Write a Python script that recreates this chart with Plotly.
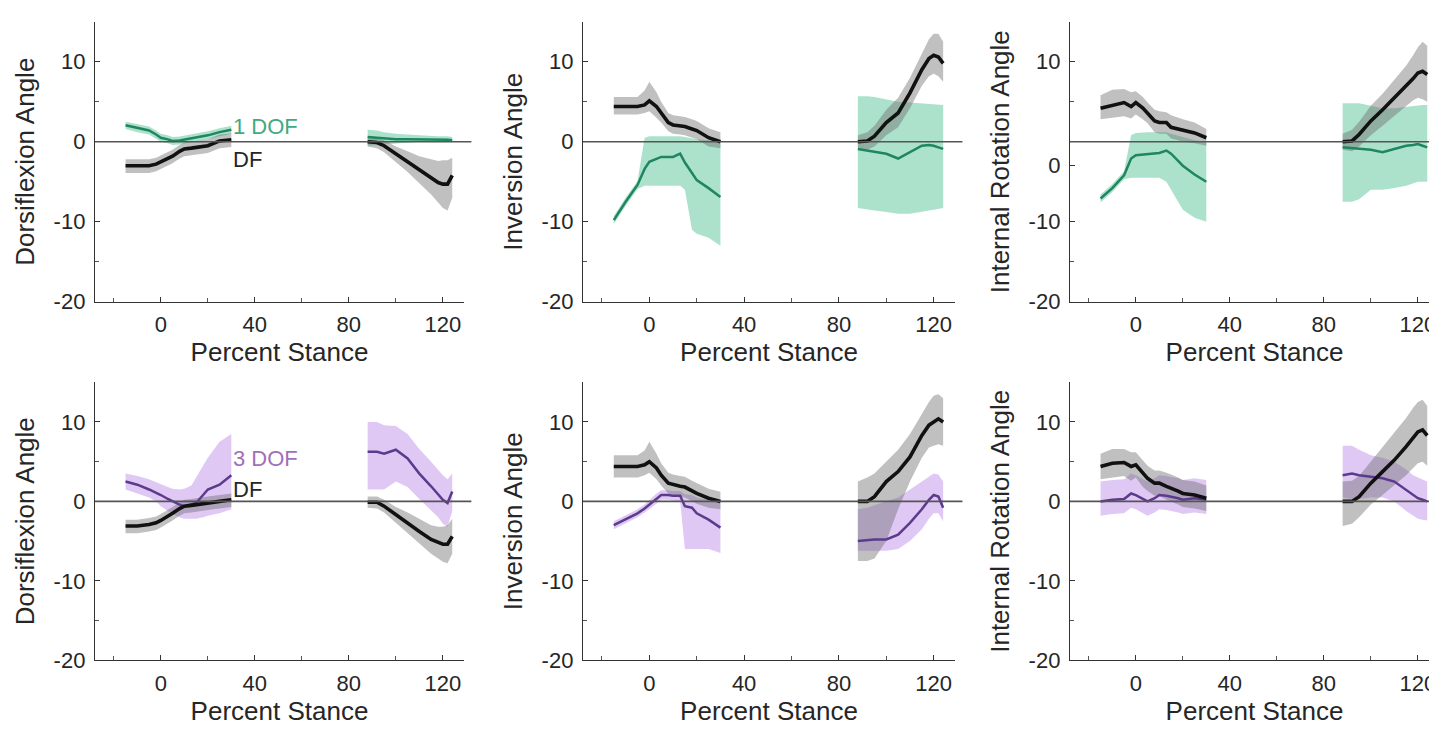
import plotly.graph_objects as go

# ---------------- data ----------------
X_EARLY = [-15, -10, -5, -2, 0, 3, 5, 8, 10, 13, 15, 18, 20, 25, 30]
X_LATE = [88, 92, 95, 100, 105, 110, 115, 118, 120, 122, 124]

Y_LABELS = ["Dorsiflexion Angle", "Inversion Angle", "Internal Rotation Angle"]
X_LABEL = "Percent Stance"
X_TICKS = [0, 40, 80, 120]
Y_TICKS = [-20, -10, 0, 10]
Y_TICKS_TOP_RIGHT = [-20, -10, -3, 10]   # the "0" label sits low in the source
Y_TICK_TEXT = ["-20", "-10", "0", "10"]

# Panel 1: dorsiflexion, DF (black) vs 1 DOF (green)
P1_DF_E = [-3.0, -3.0, -3.0, -2.8, -2.5, -2.1, -1.8, -1.2, -0.9, -0.8, -0.7, -0.6, -0.5, 0.1, 0.25]
P1_DF_E_HI = [-2.2, -2.2, -2.2, -2.0, -1.7, -1.3, -1.0, -0.4, -0.1, 0.0, 0.1, 0.2, 0.3, 0.9, 1.05]
P1_DF_E_LO = [-3.9, -3.9, -3.9, -3.7, -3.4, -3.0, -2.7, -2.1, -1.8, -1.7, -1.6, -1.5, -1.4, -0.8, -0.65]
P1_DF_L = [0.0, -0.1, -0.5, -1.5, -2.5, -3.6, -4.6, -5.1, -5.3, -5.3, -4.2]
P1_DF_L_HI = [0.6, 0.5, 0.2, -0.6, -1.2, -1.8, -2.2, -2.4, -2.3, -2.3, -2.0]
P1_DF_L_LO = [-0.6, -0.8, -1.3, -2.5, -3.8, -5.2, -6.6, -7.6, -8.3, -8.6, -7.0]
P1_CMP_E = [2.05, 1.7, 1.4, 0.9, 0.5, 0.3, 0.1, 0.15, 0.25, 0.4, 0.5, 0.7, 0.8, 1.2, 1.5]
P1_CMP_E_HI = [2.5, 2.2, 1.9, 1.4, 1.0, 0.8, 0.6, 0.65, 0.75, 0.9, 1.0, 1.2, 1.3, 1.7, 2.0]
P1_CMP_E_LO = [1.6, 1.2, 0.9, 0.4, 0.0, -0.2, -0.4, -0.35, -0.25, -0.1, 0.0, 0.2, 0.3, 0.7, 1.0]
P1_CMP_L = [0.6, 0.5, 0.4, 0.3, 0.3, 0.3, 0.3, 0.3, 0.3, 0.25, 0.2]
P1_CMP_L_HI = [1.5, 1.4, 1.2, 1.0, 0.9, 0.8, 0.7, 0.7, 0.7, 0.7, 0.6]
P1_CMP_L_LO = [-0.5, -0.4, -0.3, -0.2, -0.1, 0.0, 0.0, 0.0, 0.0, 0.0, 0.0]

# Panel 2: inversion, DF (black) vs 1 DOF (green)
P2_DF_E = [4.4, 4.4, 4.4, 4.6, 5.1, 4.4, 3.6, 2.4, 2.1, 2.0, 1.9, 1.6, 1.4, 0.5, 0.0]
P2_DF_E_HI = [5.6, 5.6, 5.6, 6.4, 7.5, 6.2, 5.0, 3.6, 3.3, 3.2, 3.1, 2.8, 2.6, 1.7, 1.2]
P2_DF_E_LO = [3.4, 3.4, 3.4, 3.6, 3.8, 3.0, 2.4, 1.3, 1.0, 0.9, 0.8, 0.5, 0.3, -0.6, -0.8]
P2_DF_L = [0.0, 0.1, 0.7, 2.4, 3.6, 6.1, 9.0, 10.4, 10.8, 10.6, 9.8]
P2_DF_L_HI = [0.8, 1.2, 2.0, 4.0, 5.5, 8.0, 11.0, 12.8, 13.5, 13.5, 12.5]
P2_DF_L_LO = [-0.8, -1.0, -0.6, 0.8, 1.8, 4.2, 7.0, 8.2, 8.5, 8.2, 7.5]
P2_CMP_E = [-9.8, -7.5, -5.4, -3.4, -2.5, -2.1, -1.9, -1.9, -1.9, -1.5, -2.6, -3.9, -4.8, -5.8, -6.9]
P2_CMP_E_HI = [-9.3, -7.0, -4.9, 0.5, 0.7, 0.7, 0.7, 0.7, 0.7, 0.7, 0.6, 0.4, 0.3, 0.2, 0.0]
P2_CMP_E_LO = [-10.3, -8.0, -5.9, -5.5, -5.5, -5.5, -5.5, -5.5, -5.5, -5.5, -6.0, -11.0, -11.5, -12.0, -13.0]
P2_CMP_L = [-0.9, -1.1, -1.3, -1.5, -2.1, -1.3, -0.5, -0.4, -0.5, -0.7, -0.9]
P2_CMP_L_HI = [5.7, 5.7, 5.6, 5.3, 5.0, 4.9, 4.8, 4.8, 4.7, 4.7, 4.6]
P2_CMP_L_LO = [-8.3, -8.5, -8.6, -8.8, -9.0, -9.0, -8.8, -8.6, -8.5, -8.4, -8.3]

# Panel 3: internal rotation, DF (black) vs 1 DOF (green)
P3_DF_E = [4.2, 4.6, 4.9, 4.4, 4.9, 4.2, 3.6, 2.6, 2.4, 2.4, 1.8, 1.6, 1.4, 1.1, 0.5]
P3_DF_E_HI = [5.8, 6.5, 6.6, 6.2, 6.3, 5.6, 4.9, 4.0, 3.8, 3.7, 3.3, 3.0, 2.8, 2.4, 1.6]
P3_DF_E_LO = [2.8, 3.0, 3.2, 2.9, 3.4, 2.8, 2.3, 1.2, 1.0, 1.0, 0.4, 0.2, 0.0, -0.2, -0.5]
P3_DF_L = [0.0, 0.1, 0.9, 2.6, 4.0, 5.5, 6.9, 7.9, 8.6, 8.8, 8.4]
P3_DF_L_HI = [1.0, 1.5, 2.5, 4.5, 6.0, 7.8, 9.5, 10.8, 11.8, 12.5, 12.0]
P3_DF_L_LO = [-1.0, -1.2, -0.6, 0.8, 2.0, 3.2, 4.5, 5.2, 5.5, 5.3, 5.0]
P3_CMP_E = [-7.1, -5.8, -4.2, -2.1, -1.7, -1.6, -1.5, -1.45, -1.4, -1.1, -1.5, -2.4, -3.0, -4.1, -5.0]
P3_CMP_E_HI = [-6.6, -5.3, -3.7, 0.8, 1.1, 1.2, 1.2, 1.2, 1.2, 1.2, 1.0, 0.8, 0.6, 0.2, 0.0]
P3_CMP_E_LO = [-7.6, -6.3, -4.7, -4.5, -4.5, -4.5, -4.5, -4.5, -4.5, -5.0, -6.0, -7.5, -8.5, -9.5, -10.0]
P3_CMP_L = [-0.7, -0.8, -0.9, -1.0, -1.3, -0.9, -0.5, -0.4, -0.3, -0.5, -0.7]
P3_CMP_L_HI = [4.8, 4.8, 4.8, 4.5, 4.2, 4.2, 4.4, 4.5, 4.6, 4.6, 4.6]
P3_CMP_L_LO = [-7.5, -7.5, -7.2, -6.0, -6.0, -5.8, -5.5, -5.2, -5.0, -5.0, -5.0]

# Panel 4: dorsiflexion, DF (black) vs 3 DOF (purple)
P4_DF_E = [-3.1, -3.1, -2.9, -2.7, -2.4, -1.9, -1.5, -0.9, -0.6, -0.5, -0.4, -0.3, -0.2, 0.0, 0.2]
P4_DF_E_HI = [-2.3, -2.3, -2.1, -1.9, -1.6, -1.1, -0.7, -0.1, 0.2, 0.3, 0.4, 0.5, 0.6, 0.8, 1.0]
P4_DF_E_LO = [-4.0, -4.0, -3.8, -3.6, -3.3, -2.8, -2.4, -1.8, -1.5, -1.4, -1.3, -1.2, -1.1, -0.9, -0.7]
P4_DF_L = [-0.1, -0.1, -0.6, -1.7, -2.7, -3.8, -4.8, -5.2, -5.4, -5.4, -4.4]
P4_DF_L_HI = [0.6, 0.6, 0.2, -0.7, -1.4, -2.2, -3.0, -3.2, -3.2, -3.0, -2.2]
P4_DF_L_LO = [-0.8, -0.9, -1.4, -2.7, -4.0, -5.4, -6.6, -7.2, -7.6, -7.8, -6.6]
P4_CMP_E = [2.5, 2.1, 1.5, 1.1, 0.8, 0.3, 0.0, -0.4, -0.6, -0.4, -0.2, 0.8, 1.5, 2.1, 3.3]
P4_CMP_E_HI = [3.5, 3.2, 2.8, 2.4, 2.2, 1.8, 1.6, 1.5, 1.6, 2.0, 3.0, 4.5, 5.5, 7.5, 8.5]
P4_CMP_E_LO = [1.5, 1.0, 0.5, 0.0, -0.6, -1.2, -1.6, -2.0, -2.2, -2.2, -2.2, -2.0, -1.8, -1.5, -1.0]
P4_CMP_L = [6.25, 6.25, 6.0, 6.5, 5.4, 3.5, 1.9, 0.9, 0.2, -0.2, 1.25]
P4_CMP_L_HI = [10.0, 10.0, 9.6, 9.5, 8.5, 6.6, 5.0, 4.0, 3.3, 2.8, 3.5]
P4_CMP_L_LO = [1.5, 1.5, 1.5, 2.5, 1.8, 0.3, -1.2, -2.0, -2.8, -3.2, -1.2]

# Panel 5: inversion, DF (black) vs 3 DOF (purple)
P5_DF_E = [4.4, 4.4, 4.4, 4.6, 5.0, 4.2, 3.3, 2.3, 2.1, 1.9, 1.8, 1.3, 1.0, 0.4, 0.0]
P5_DF_E_HI = [5.8, 5.8, 5.8, 6.4, 7.5, 6.0, 4.8, 3.6, 3.4, 3.2, 3.1, 2.6, 2.3, 1.6, 1.2]
P5_DF_E_LO = [3.0, 3.0, 3.0, 3.3, 3.6, 2.8, 2.0, 1.0, 0.8, 0.6, 0.5, 0.0, -0.3, -0.8, -1.0]
P5_DF_L = [0.0, 0.0, 0.6, 2.5, 3.75, 5.6, 8.3, 9.6, 10.0, 10.4, 10.0]
P5_DF_L_HI = [2.5, 3.0, 3.5, 5.0, 6.5, 8.5, 11.0, 12.5, 13.3, 13.5, 13.0]
P5_DF_L_LO = [-7.5, -7.5, -7.2, -5.0, -1.0, 2.5, 5.5, 6.8, 7.0, 7.2, 7.0]
P5_CMP_E = [-3.0, -2.3, -1.5, -0.9, -0.4, 0.4, 0.8, 0.8, 0.7, 0.7, -0.6, -0.8, -1.5, -2.3, -3.3]
P5_CMP_E_HI = [-2.5, -1.8, -1.0, -0.4, 0.2, 1.0, 1.4, 1.4, 1.3, 1.3, 0.9, 0.8, 0.5, 0.2, 0.0]
P5_CMP_E_LO = [-3.5, -2.8, -2.0, -1.4, -1.0, -0.3, 0.2, 0.2, 0.1, 0.0, -6.0, -6.0, -6.0, -6.0, -6.5]
P5_CMP_L = [-5.0, -4.9, -4.8, -4.8, -4.2, -2.7, -1.0, 0.2, 0.8, 0.6, -0.8]
P5_CMP_L_HI = [-1.0, -0.8, -0.5, 0.0, 0.5, 1.5, 2.5, 3.2, 3.5, 3.4, 2.5]
P5_CMP_L_LO = [-6.2, -6.2, -6.2, -6.2, -6.0, -5.0, -3.5, -2.2, -1.5, -1.5, -2.5]

# Panel 6: internal rotation, DF (black) vs 3 DOF (purple)
P6_DF_E = [4.4, 4.8, 4.9, 4.4, 4.6, 3.5, 2.9, 2.3, 2.3, 1.9, 1.7, 1.3, 1.0, 0.8, 0.4]
P6_DF_E_HI = [6.0, 6.6, 6.6, 6.2, 6.2, 5.2, 4.5, 3.9, 3.9, 3.6, 3.4, 3.0, 2.7, 2.5, 2.0]
P6_DF_E_LO = [2.8, 3.0, 3.2, 2.6, 3.0, 1.8, 1.3, 0.7, 0.7, 0.2, 0.0, -0.4, -0.7, -0.9, -1.2]
P6_DF_L = [0.0, 0.0, 0.6, 2.3, 3.75, 5.2, 6.9, 8.0, 8.75, 9.0, 8.3]
P6_DF_L_HI = [2.5, 2.6, 3.2, 5.0, 6.8, 8.6, 10.5, 11.8, 12.5, 12.8, 12.0]
P6_DF_L_LO = [-3.1, -2.8, -2.0, -0.4, 0.8, 2.0, 3.3, 4.2, 4.8, 5.0, 4.5]
P6_CMP_E = [0.0, 0.2, 0.3, 1.0, 0.8, 0.3, 0.0, 0.4, 0.8, 0.7, 0.6, 0.4, 0.2, 0.4, 0.2]
P6_CMP_E_HI = [2.5, 2.7, 2.8, 3.5, 3.3, 2.8, 2.5, 2.9, 3.3, 3.2, 3.1, 2.9, 2.7, 2.9, 2.7]
P6_CMP_E_LO = [-1.8, -1.6, -1.5, -0.8, -1.0, -1.5, -1.8, -1.4, -1.0, -1.1, -1.2, -1.4, -1.6, -1.4, -1.6]
P6_CMP_L = [3.3, 3.5, 3.3, 3.1, 2.9, 2.5, 1.5, 0.9, 0.4, 0.2, 0.0]
P6_CMP_L_HI = [7.0, 7.0, 6.5, 5.8, 5.5, 5.0, 4.0, 3.3, 3.0, 2.8, 2.5]
P6_CMP_L_LO = [0.5, 0.3, 0.3, 0.5, 0.5, 0.0, -1.2, -1.8, -2.2, -2.3, -2.4]

# ---------------- styling ----------------
FONT = "Liberation Sans, Arial, Helvetica, sans-serif"
TEXT = "#262626"
BLACK_LINE = "#111111"
GRAY_FILL = "rgba(105,105,105,0.42)"
GREEN_LINE = "#1e8660"
GREEN_FILL = "rgba(70,190,140,0.45)"
PURPLE_LINE = "#5c3a8e"
PURPLE_FILL = "rgba(185,135,230,0.45)"

panels = [
    dict(df=(P1_DF_E, P1_DF_E_HI, P1_DF_E_LO, P1_DF_L, P1_DF_L_HI, P1_DF_L_LO),
         cmp=(P1_CMP_E, P1_CMP_E_HI, P1_CMP_E_LO, P1_CMP_L, P1_CMP_L_HI, P1_CMP_L_LO),
         line=GREEN_LINE, fill=GREEN_FILL, ylab=Y_LABELS[0]),
    dict(df=(P2_DF_E, P2_DF_E_HI, P2_DF_E_LO, P2_DF_L, P2_DF_L_HI, P2_DF_L_LO),
         cmp=(P2_CMP_E, P2_CMP_E_HI, P2_CMP_E_LO, P2_CMP_L, P2_CMP_L_HI, P2_CMP_L_LO),
         line=GREEN_LINE, fill=GREEN_FILL, ylab=Y_LABELS[1]),
    dict(df=(P3_DF_E, P3_DF_E_HI, P3_DF_E_LO, P3_DF_L, P3_DF_L_HI, P3_DF_L_LO),
         cmp=(P3_CMP_E, P3_CMP_E_HI, P3_CMP_E_LO, P3_CMP_L, P3_CMP_L_HI, P3_CMP_L_LO),
         line=GREEN_LINE, fill=GREEN_FILL, ylab=Y_LABELS[2]),
    dict(df=(P4_DF_E, P4_DF_E_HI, P4_DF_E_LO, P4_DF_L, P4_DF_L_HI, P4_DF_L_LO),
         cmp=(P4_CMP_E, P4_CMP_E_HI, P4_CMP_E_LO, P4_CMP_L, P4_CMP_L_HI, P4_CMP_L_LO),
         line=PURPLE_LINE, fill=PURPLE_FILL, ylab=Y_LABELS[0]),
    dict(df=(P5_DF_E, P5_DF_E_HI, P5_DF_E_LO, P5_DF_L, P5_DF_L_HI, P5_DF_L_LO),
         cmp=(P5_CMP_E, P5_CMP_E_HI, P5_CMP_E_LO, P5_CMP_L, P5_CMP_L_HI, P5_CMP_L_LO),
         line=PURPLE_LINE, fill=PURPLE_FILL, ylab=Y_LABELS[1]),
    dict(df=(P6_DF_E, P6_DF_E_HI, P6_DF_E_LO, P6_DF_L, P6_DF_L_HI, P6_DF_L_LO),
         cmp=(P6_CMP_E, P6_CMP_E_HI, P6_CMP_E_LO, P6_CMP_L, P6_CMP_L_HI, P6_CMP_L_LO),
         line=PURPLE_LINE, fill=PURPLE_FILL, ylab=Y_LABELS[2]),
]

W, H = 1437, 734
# pixel placement of each plotting area (left, right) and (top, bottom)
COL_PX = [(87, 456), (575, 947), (1062, 1431)]
ROW_PX = [(14, 299), (381, 664)]

fig = go.Figure()


def add_band(x, hi, lo, fill, xa, ya):
    fig.add_trace(go.Scatter(x=x, y=lo, mode="lines", line=dict(width=0, color=fill),
                             xaxis=xa, yaxis=ya, showlegend=False, hoverinfo="skip"))
    fig.add_trace(go.Scatter(x=x, y=hi, mode="lines", line=dict(width=0, color=fill),
                             fill="tonexty", fillcolor=fill,
                             xaxis=xa, yaxis=ya, showlegend=False, hoverinfo="skip"))


for i, p in enumerate(panels):
    r, c = divmod(i, 3)
    n = i + 1
    xa = "x" if n == 1 else f"x{n}"
    ya = "y" if n == 1 else f"y{n}"
    # bands
    for series, fill in ((p["cmp"], p["fill"]), (p["df"], GRAY_FILL)):
        e, ehi, elo, l, lhi, llo = series
        add_band(X_EARLY, ehi, elo, fill, xa, ya)
        add_band(X_LATE, lhi, llo, fill, xa, ya)
    # lines
    for series, col, w in ((p["cmp"], p["line"], 2.5), (p["df"], BLACK_LINE, 3.6)):
        e, ehi, elo, l, lhi, llo = series
        fig.add_trace(go.Scatter(x=X_EARLY, y=e, mode="lines", line=dict(color=col, width=w),
                                 xaxis=xa, yaxis=ya, showlegend=False))
        fig.add_trace(go.Scatter(x=X_LATE, y=l, mode="lines", line=dict(color=col, width=w),
                                 xaxis=xa, yaxis=ya, showlegend=False))
    # zero line
    fig.add_shape(type="line", xref=f"{xa} domain", yref=ya, x0=0, x1=1.02, y0=0, y1=0,
                  line=dict(color="#555555", width=1.6), layer="above")

    x0, x1 = COL_PX[c]
    t, b = ROW_PX[r]
    axis_common = dict(showline=True, linecolor="#333333", linewidth=1.4, showgrid=False,
                       zeroline=False, ticks="inside", ticklen=5, tickcolor="#333333",
                       tickfont=dict(family=FONT, size=22, color=TEXT))
    yticks = Y_TICKS_TOP_RIGHT if i == 2 else Y_TICKS
    fig.layout[f"xaxis{'' if n == 1 else n}"] = dict(
        domain=[x0 / W, x1 / W], anchor=ya, range=[-28, 129],
        tickvals=X_TICKS, ticklabelstandoff=3,
        minor=dict(ticks="inside", tickvals=[-20, 20, 60, 100], ticklen=4, tickcolor="#555555"),
        title=dict(text=X_LABEL, font=dict(family=FONT, size=26, color=TEXT), standoff=0),
        **axis_common)
    fig.layout[f"yaxis{'' if n == 1 else n}"] = dict(
        domain=[1 - b / H, 1 - t / H], anchor=xa, range=[-20, 15],
        tickvals=yticks, ticktext=Y_TICK_TEXT, ticklabelstandoff=4,
        minor=dict(ticks="inside", tickvals=[-15, 5], ticklen=4, tickcolor="#555555"),
        title=dict(text=p["ylab"], font=dict(family=FONT, size=26, color=TEXT), standoff=11),
        **axis_common)

# series labels
fig.add_annotation(x=30, y=1.9, xref="x", yref="y", text="1 DOF", showarrow=False,
                   xanchor="left", font=dict(family=FONT, size=22, color="#3faa80"))
fig.add_annotation(x=30, y=-2.2, xref="x", yref="y", text="DF", showarrow=False,
                   xanchor="left", font=dict(family=FONT, size=22, color=TEXT))
fig.add_annotation(x=30, y=5.4, xref="x4", yref="y4", text="3 DOF", showarrow=False,
                   xanchor="left", font=dict(family=FONT, size=22, color="#a070b8"))
fig.add_annotation(x=30, y=1.5, xref="x4", yref="y4", text="DF", showarrow=False,
                   xanchor="left", font=dict(family=FONT, size=22, color=TEXT))

fig.update_layout(width=W, height=H, margin=dict(l=0, r=0, t=0, b=0),
                  paper_bgcolor="white", plot_bgcolor="white", showlegend=False)

fig.write_html("out.html")
